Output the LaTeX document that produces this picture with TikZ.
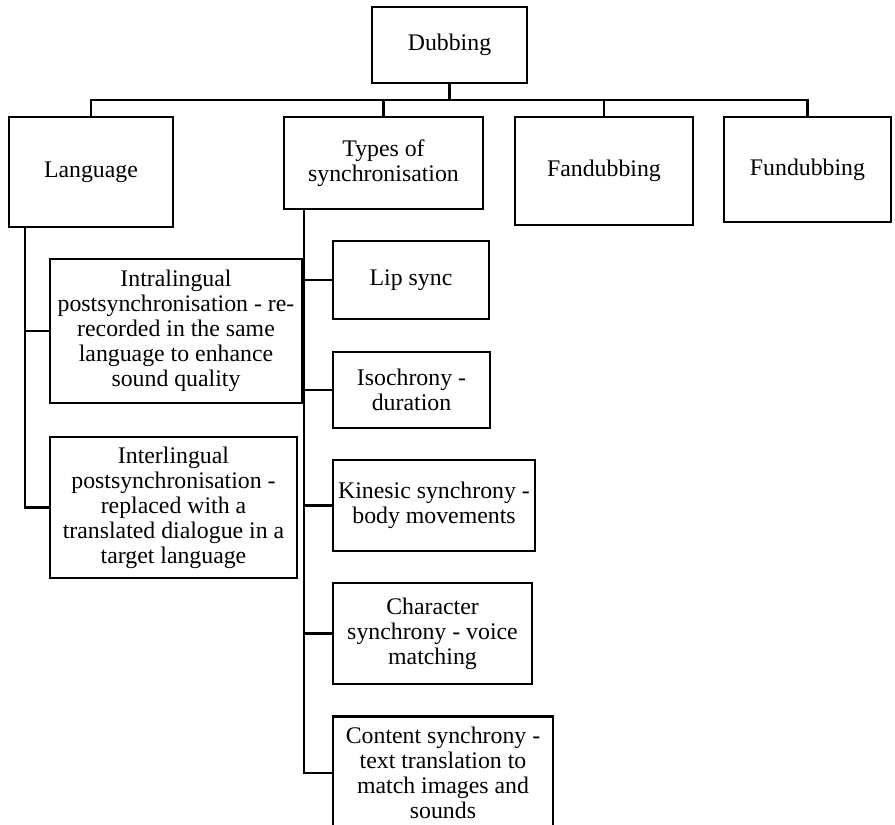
\documentclass[tikz,border=0pt]{standalone}
\usepackage{fontspec}
\setmainfont{Liberation Serif}
\begin{document}
\begin{tikzpicture}[x=1pt,y=-1pt,line width=2.5pt,
	box/.style={draw,line width=2.5pt,align=center,inner sep=0pt,font=\fontsize{23.8}{25}\selectfont}]
		\useasboundingbox (0,0) rectangle (895,825);
		\node [box,minimum width=155pt,minimum height=76pt] (dub) at (449.5,45) {Dubbing};
		\node [box,minimum width=164pt,minimum height=110pt] (lang) at (91,172) {Language};
		\node [box,minimum width=199pt,minimum height=92pt] (types) at (383.5,163) {Types of\\synchronisation};
		\node [box,minimum width=178pt,minimum height=108pt] (fan) at (604,171) {Fandubbing};
		\node [box,minimum width=167pt,minimum height=105pt] (fun) at (807.5,169.5) {Fundubbing};
		\node [box,minimum width=252pt,minimum height=144pt] (intra) at (176,331) {Intralingual\\postsynchronisation - re-\\recorded in the same\\language to enhance\\sound quality};
		\node [box,minimum width=247pt,minimum height=141pt] (inter) at (173.5,507.5) {Interlingual\\postsynchronisation -\\replaced with a\\translated dialogue in a\\target language};
		\node [box,minimum width=156pt,minimum height=78pt] (lip) at (411,280) {Lip sync};
		\node [box,minimum width=157pt,minimum height=76pt] (iso) at (411.5,390) {Isochrony -\\duration};
		\node [box,minimum width=202pt,minimum height=91pt] (kin) at (434,505.5) {Kinesic synchrony -\\body movements};
		\node [box,minimum width=199pt,minimum height=101pt] (char) at (432.5,633.5) {Character\\synchrony - voice\\matching};
		\node [box,minimum width=220pt,minimum height=113pt] (cont) at (443,773) {Content synchrony -\\text translation to\\match images and\\sounds};
		\coordinate (bus) at (449.5,100);
		\draw (dub.south)--(bus);
		\draw (lang.north)--(lang.north |- bus)--(fun.north |- bus)--(fun.north);
		\draw (types.north)--(types.north |- bus);
		\draw (fan.north)--(fan.north |- bus);
		\coordinate (langline) at (25,227);
		\draw (langline)|-(intra.west);
		\draw (langline)|-(inter.west);
		\coordinate (typesline) at (304,209);
		\foreach \n in {lip,iso,kin,char,cont}
			\draw (typesline)|-(\n.west);
\end{tikzpicture}
\end{document}
